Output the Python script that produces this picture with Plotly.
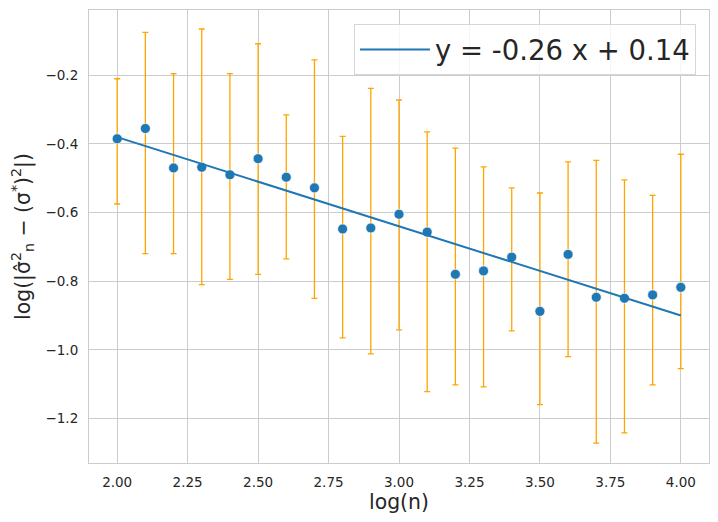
import plotly.graph_objects as go

log_n = [2.0, 2.1, 2.2, 2.3, 2.4, 2.5, 2.6, 2.7, 2.8, 2.9, 3.0,
         3.1, 3.2, 3.3, 3.4, 3.5, 3.6, 3.7, 3.8, 3.9, 4.0]
log_err = [-0.385, -0.355, -0.470, -0.468, -0.490, -0.443, -0.497, -0.528, -0.648, -0.645, -0.605,
           -0.657, -0.780, -0.770, -0.730, -0.888, -0.722, -0.847, -0.850, -0.840, -0.818]
err_top = [-0.210, -0.075, -0.195, -0.065, -0.195, -0.108, -0.315, -0.155, -0.378, -0.238, -0.272,
           -0.365, -0.412, -0.467, -0.528, -0.543, -0.452, -0.448, -0.505, -0.550, -0.430]
err_bottom = [-0.575, -0.720, -0.720, -0.810, -0.795, -0.780, -0.735, -0.850, -0.965, -1.012, -0.942,
              -1.122, -1.102, -1.108, -0.945, -1.160, -1.020, -1.272, -1.242, -1.102, -1.055]
slope = -0.26
intercept = 0.14
fit_x = [log_n[0], log_n[-1]]
fit_label = "y = -0.26 x + 0.14"

x_ticks = [2.0, 2.25, 2.5, 2.75, 3.0, 3.25, 3.5, 3.75, 4.0]
y_ticks = [-1.2, -1.0, -0.8, -0.6, -0.4, -0.2]

plus = [t - v for t, v in zip(err_top, log_err)]
minus = [v - b for v, b in zip(log_err, err_bottom)]
fit_y = [slope * x + intercept for x in fit_x]

fig = go.Figure()
fig.add_trace(go.Scatter(
    x=log_n, y=log_err, mode="markers", showlegend=False,
    marker=dict(color="#1f77b4", size=10, line=dict(color="white", width=0.7)),
    error_y=dict(type="data", symmetric=False, array=plus, arrayminus=minus,
                 color="#FFA500", thickness=1.3, width=3),
))
fig.add_trace(go.Scatter(
    x=fit_x, y=fit_y, mode="lines", name=fit_label,
    line=dict(color="#1f77b4", width=2),
))

axis_common = dict(
    showgrid=True, gridcolor="#cccccc", gridwidth=1.1,
    showline=True, linecolor="#cccccc", linewidth=1.1, mirror=True,
    zeroline=False, ticks="outside", ticklen=7, tickcolor="rgba(0,0,0,0)",
    tickfont=dict(family="DejaVu Sans", size=13.5, color="#262626"),
)

# page body has an 8px default margin; size the figure to fit inside the window
fig.update_layout(
    width=702, height=506,
    margin=dict(l=81, r=1, t=2, b=51),
    plot_bgcolor="white", paper_bgcolor="white",
    font=dict(family="DejaVu Sans", color="#262626"),
    xaxis=dict(range=[1.9, 4.1], tickvals=x_ticks, tickformat=".2f",
               title=dict(text="log(n)", font=dict(size=20.4, color="#262626"), standoff=4),
               **axis_common),
    yaxis=dict(range=[-1.33, -0.0096], tickvals=y_ticks, tickformat=".1f",
               title=dict(text="log(|σ̂<sup>2</sup><sub>n</sub> − (σ<sup>*</sup>)<sup>2</sup>|)",
                          font=dict(size=20.4, color="#262626")),
               **axis_common),
    legend=dict(x=0.979, y=0.969, xanchor="right", yanchor="top",
                itemwidth=70,
                bgcolor="rgba(255,255,255,0.8)", bordercolor="#d6d6d6", borderwidth=1,
                font=dict(family="DejaVu Sans", size=27.5, color="#262626")),
)

fig.write_html("out.html")
